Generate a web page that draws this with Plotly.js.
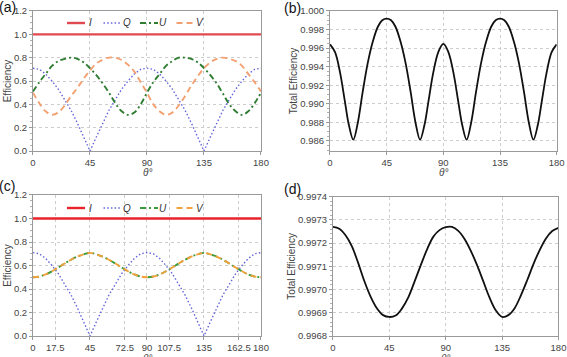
<!DOCTYPE html>
<html>
<head>
<meta charset="utf-8">
<script src="https://cdn.plot.ly/plotly-3.0.1.min.js"></script>
<style>
  html, body { margin: 0; padding: 0; background: #ffffff; }
  #chart { width: 567px; height: 357px; }
</style>
</head>
<body>
<div id="chart"></div>
<script>
// Polarization angle θ (degrees), 5° steps
const theta = [0, 5, 10, 15, 20, 25, 30, 35, 40, 45, 50, 55, 60, 65, 70, 75, 80, 85, 90,
               95, 100, 105, 110, 115, 120, 125, 130, 135, 140, 145, 150, 155, 160, 165, 170, 175, 180];

// Stokes efficiencies, panels (a) and (c)
const stokesNames = ['I', 'Q', 'U', 'V'];
const iTheta = [0, 180];
const iEff = [1.0, 1.0];
const qEff = [0.71, 0.70, 0.66, 0.60, 0.53, 0.44, 0.35, 0.24, 0.12, 0.00, 0.12, 0.24, 0.35, 0.44, 0.53, 0.60, 0.66, 0.70, 0.71,
              0.70, 0.66, 0.60, 0.53, 0.44, 0.35, 0.24, 0.12, 0.00, 0.12, 0.24, 0.35, 0.44, 0.53, 0.60, 0.66, 0.70, 0.71];
const uEffA = [0.51, 0.59, 0.66, 0.73, 0.77, 0.79, 0.80, 0.79, 0.76, 0.71, 0.65, 0.58, 0.50, 0.41, 0.34, 0.31, 0.33, 0.40, 0.50,
               0.59, 0.66, 0.73, 0.77, 0.80, 0.80, 0.79, 0.76, 0.71, 0.65, 0.58, 0.49, 0.40, 0.34, 0.31, 0.34, 0.41, 0.50];
const vEffA = [0.50, 0.41, 0.34, 0.31, 0.33, 0.39, 0.47, 0.54, 0.62, 0.69, 0.75, 0.78, 0.80, 0.80, 0.78, 0.74, 0.68, 0.59, 0.50,
               0.40, 0.34, 0.31, 0.33, 0.39, 0.47, 0.56, 0.64, 0.71, 0.76, 0.79, 0.80, 0.79, 0.77, 0.73, 0.66, 0.59, 0.51];
const uEffC = [0.500, 0.506, 0.524, 0.551, 0.583, 0.617, 0.649, 0.676, 0.695, 0.707, 0.695, 0.676, 0.649, 0.617, 0.583, 0.551, 0.524, 0.506, 0.500,
               0.506, 0.524, 0.551, 0.583, 0.617, 0.649, 0.676, 0.695, 0.707, 0.695, 0.676, 0.649, 0.617, 0.583, 0.551, 0.524, 0.506, 0.500];
const vEffC = [0.500, 0.506, 0.524, 0.551, 0.583, 0.617, 0.649, 0.676, 0.695, 0.707, 0.695, 0.676, 0.649, 0.617, 0.583, 0.551, 0.524, 0.506, 0.500,
               0.506, 0.524, 0.551, 0.583, 0.617, 0.649, 0.676, 0.695, 0.707, 0.695, 0.676, 0.649, 0.617, 0.583, 0.551, 0.524, 0.506, 0.500];

// Total efficiency, panel (b)
const thetaB = [0, 4, 8, 12, 15, 18.5, 22, 26, 30, 34, 38, 41.5, 45,
                48.5, 52, 56, 60, 64, 68, 71.5, 75, 78, 82, 86, 90,
                94, 98, 102, 105, 108.5, 112, 116, 120, 124, 128, 131.5, 135,
                138.5, 142, 146, 150, 154, 158, 161.5, 165, 168, 172, 176, 180];
const totalB = [0.99640, 0.99557, 0.99335, 0.99010, 0.98770, 0.98612, 0.98790, 0.99130, 0.99440, 0.99670, 0.99830, 0.99900, 0.99918,
                0.99900, 0.99830, 0.99670, 0.99440, 0.99130, 0.98790, 0.98612, 0.98770, 0.99010, 0.99335, 0.99557, 0.99645,
                0.99557, 0.99335, 0.99010, 0.98770, 0.98612, 0.98790, 0.99130, 0.99440, 0.99670, 0.99830, 0.99900, 0.99918,
                0.99900, 0.99830, 0.99670, 0.99440, 0.99130, 0.98790, 0.98612, 0.98770, 0.99010, 0.99335, 0.99557, 0.99640];

// Total efficiency, panel (d)
const totalD = [0.997270, 0.997262, 0.997234, 0.997187, 0.997116, 0.997037, 0.996970, 0.996920, 0.996890, 0.996882,
                0.996888, 0.996918, 0.996965, 0.997033, 0.997104, 0.997172, 0.997227, 0.997256, 0.997269,
                0.997270, 0.997253, 0.997218, 0.997167, 0.997105, 0.997035, 0.996965, 0.996910, 0.996882,
                0.996890, 0.996920, 0.996975, 0.997040, 0.997110, 0.997170, 0.997220, 0.997252, 0.997266];

const ticksA = [0, 45, 90, 135, 180];
const ticksC = [0, 17.5, 45, 72.5, 90, 107.5, 135, 162.5, 180];
const ticksYA = [0, 0.2, 0.4, 0.6, 0.8, 1.0, 1.2];
const ticksYB = [0.986, 0.988, 0.990, 0.992, 0.994, 0.996, 0.998, 1.000];
const ticksYD = [0.9968, 0.9969, 0.9970, 0.9971, 0.9972, 0.9973, 0.9974];

const W = 567, H = 357;
const FONT = 'Liberation Sans, Arial, sans-serif';
const BLUE = '#6565dc';
// line styles for I, Q, U, V in the two Stokes panels
const styleA = [
  {color: '#e0494f', width: 2.4, dash: 'solid'},
  {color: BLUE, width: 1.4, dash: '1.5px,2.2px'},
  {color: '#2f7d32', width: 1.9, dash: '6px,3px,2px,3px'},
  {color: '#f3a070', width: 1.9, dash: '6px,4px'}
];
const styleC = [
  {color: '#e8232a', width: 2.4, dash: 'solid'},
  {color: BLUE, width: 1.4, dash: '1.5px,2.2px'},
  {color: '#3c9a3c', width: 1.9, dash: '6px,3px,2px,3px'},
  {color: '#f2a23c', width: 1.9, dash: '6px,4px'}
];

function stokes(xa, ya, styles, u, v) {
  const xs = [iTheta, theta, theta, theta];
  const ys = [iEff, qEff, u, v];
  return stokesNames.map(function (name, k) {
    return {x: xs[k], y: ys[k], name: name, xaxis: xa, yaxis: ya, mode: 'lines', showlegend: false,
            line: Object.assign({shape: k >= 2 ? 'spline' : 'linear'}, styles[k])};
  });
}

const traces = [].concat(
  stokes('x', 'y', styleA, uEffA, vEffA),
  stokes('x3', 'y3', styleC, uEffC, vEffC),
  [
    {x: thetaB, y: totalB, xaxis: 'x2', yaxis: 'y2', mode: 'lines', showlegend: false,
     line: {color: '#111111', width: 1.8, shape: 'spline'}},
    {x: theta, y: totalD, xaxis: 'x4', yaxis: 'y4', mode: 'lines', showlegend: false,
     line: {color: '#111111', width: 1.8, shape: 'spline'}}
  ]
);

function xAxis(domain, anchor, tickvals) {
  return {
    domain: domain, anchor: anchor, range: [0, 180], tickvals: tickvals, tickangle: 0,
    showline: true, mirror: true, linecolor: '#9a9a9a', linewidth: 1,
    ticks: 'outside', ticklen: 3, tickcolor: '#9a9a9a',
    showgrid: true, gridcolor: '#cdcdcd', griddash: '3px,3px', gridwidth: 1,
    zeroline: false, tickfont: {family: FONT, size: 9.5, color: '#444'}
  };
}
function yAxis(domain, anchor, range, tickvals, fmt, title, minorStep) {
  return {
    domain: domain, anchor: anchor, range: range, tickvals: tickvals, tickformat: fmt,
    showline: true, mirror: true, linecolor: '#9a9a9a', linewidth: 1,
    ticks: 'outside', ticklen: 3, tickcolor: '#9a9a9a',
    minor: {ticks: 'outside', ticklen: 2, dtick: minorStep, tickcolor: '#b0b0b0', showgrid: false},
    showgrid: true, gridcolor: '#cdcdcd', griddash: '3px,3px', gridwidth: 1,
    zeroline: false, tickfont: {family: FONT, size: 9.5, color: '#444'},
    title: {text: title, font: {family: FONT, size: 10, color: '#444'}, standoff: 0}
  };
}

// Compact legend row drawn in paper coordinates (pixel offsets from the left edge / top edge)
function legendRow(styles, leftPx, topPx) {
  const shapes = [], notes = [];
  const y = 1 - topPx / H;
  stokesNames.forEach(function (name, k) {
    const x0 = leftPx + k * 36.5;
    shapes.push({type: 'line', xref: 'paper', yref: 'paper', x0: x0 / W, x1: (x0 + 18) / W, y0: y, y1: y,
                 line: {color: styles[k].color, width: styles[k].width, dash: styles[k].dash}});
    notes.push({text: name, xref: 'paper', yref: 'paper', x: (x0 + 23) / W, y: y, xanchor: 'center', yanchor: 'middle',
                showarrow: false, font: {family: FONT, size: 10, color: '#333', style: 'italic'}});
  });
  return {shapes: shapes, notes: notes};
}
const legA = legendRow(styleA, 67, 23);
const legC = legendRow(styleC, 67, 208);

const panelLabel = (txt, x, y) => ({
  text: txt, x: x, y: y, xref: 'paper', yref: 'paper', xanchor: 'left', yanchor: 'middle',
  showarrow: false, font: {family: FONT, size: 14, color: '#111'}
});
const thetaTitle = (cx, topPx) => ({
  text: 'θ°', x: cx / W, y: 1 - topPx / H, xref: 'paper', yref: 'paper', xanchor: 'center', yanchor: 'top',
  showarrow: false, borderpad: 0, font: {family: FONT, size: 10, color: '#444', style: 'italic'}
});

const layout = {
  width: W, height: H,
  margin: {l: 0, r: 0, t: 0, b: 0},
  paper_bgcolor: '#ffffff', plot_bgcolor: '#ffffff',
  showlegend: false,
  xaxis: xAxis([0.0582, 0.4603], 'y', ticksA),
  yaxis: yAxis([0.577, 0.9692], 'x', [0, 1.2], ticksYA, '.1f', 'Efficiency', 0.05),
  xaxis2: xAxis([0.582, 0.9818], 'y2', ticksA),
  yaxis2: yAxis([0.577, 0.9692], 'x2', [0.9849, 1.0], ticksYB, '.3f', 'Total Efficiency', 0.0005),
  xaxis3: xAxis([0.0582, 0.4603], 'y3', ticksC),
  yaxis3: yAxis([0.0588, 0.4538], 'x3', [0, 1.2], ticksYA, '.1f', 'Efficiency', 0.05),
  xaxis4: xAxis([0.5873, 0.985], 'y4', ticksA),
  yaxis4: yAxis([0.0588, 0.449], 'x4', [0.9968, 0.9974], ticksYD, '.4f', 'Total Efficiency', 0.00002),
  shapes: legA.shapes.concat(legC.shapes),
  annotations: [
    panelLabel('(a)', -0.006, 0.979),
    panelLabel('(b)', 0.497, 0.977),
    panelLabel('(c)', -0.006, 0.48),
    panelLabel('(d)', 0.497, 0.47),
    thetaTitle(147, 165.5),
    thetaTitle(443.5, 165.5),
    thetaTitle(147, 351.5),
    thetaTitle(445.5, 351.5)
  ].concat(legA.notes, legC.notes)
};

Plotly.newPlot('chart', traces, layout, {displayModeBar: false, staticPlot: true});
</script>
</body>
</html>
